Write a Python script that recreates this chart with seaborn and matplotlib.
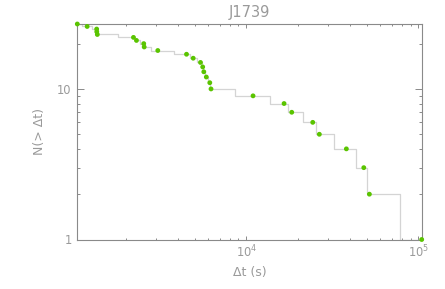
import numpy as np
import pandas as pd
import matplotlib
matplotlib.use("Agg")
import matplotlib.pyplot as plt
import matplotlib.ticker as mticker
import seaborn as sns

# ---- data ----
title = "J1739"
x_label = "\u0394t (s)"
y_label = "N(> \u0394t)"
delta_t = [1042, 1189, 1350, 1352, 1362, 2209, 2299, 2535, 2550, 3059,
           4492, 4913, 5416, 5579, 5662, 5855, 6135, 6235, 10940, 16570,
           18365, 24322, 26570, 38140, 48150, 51900, 104500]
n_count = [27, 26, 25, 24, 23, 22, 21, 20, 19, 18,
           17, 16, 15, 14, 13, 12, 11, 10, 9, 8,
           7, 6, 5, 4, 3, 2, 1]
y_major = [1, 10]
y_major_labels = ["1", "10"]

df = pd.DataFrame({"dt": delta_t, "N": n_count})

sns.set_style("ticks")
plt.rcParams["font.family"] = ["DejaVu Sans"]

text_c = "#9a9a9a"
axis_c = "#8a8a8a"

fig = plt.figure(figsize=(4.45, 2.89), dpi=100)
ax = fig.add_axes([77.3 / 445, 1 - 239.5 / 289, (421.7 - 77.3) / 445, (239.5 - 24) / 289])

sns.lineplot(data=df, x="dt", y="N", ax=ax, estimator=None, sort=False,
             drawstyle="steps-mid", color="#d4d4d4", linewidth=0.9, zorder=1)
sns.scatterplot(data=df, x="dt", y="N", ax=ax, color="#5ac400", s=12,
                edgecolor="none", zorder=3, clip_on=False)

ax.set_xscale("log")
ax.set_yscale("log")
ax.set_xlim(min(delta_t), max(delta_t))
ax.set_ylim(1, max(n_count))

ax.yaxis.set_major_locator(mticker.FixedLocator(y_major))
ax.yaxis.set_major_formatter(mticker.FixedFormatter(y_major_labels))
ax.yaxis.set_minor_locator(mticker.LogLocator(base=10, subs=np.arange(2, 10)))
ax.yaxis.set_minor_formatter(mticker.NullFormatter())
ax.xaxis.set_major_locator(mticker.LogLocator(base=10))
ax.xaxis.set_minor_locator(mticker.LogLocator(base=10, subs=np.arange(2, 10)))
ax.xaxis.set_minor_formatter(mticker.NullFormatter())

for s in ax.spines.values():
    s.set_color(axis_c)
    s.set_linewidth(0.8)

ax.tick_params(axis="both", which="both", direction="in", top=True, right=True,
               color=axis_c, labelcolor=text_c, labelsize=8.3, width=0.7)
ax.tick_params(axis="x", which="major", length=3.1, pad=3)
ax.tick_params(axis="x", which="minor", length=1.6)
ax.tick_params(axis="y", which="major", length=5.0, pad=4)
ax.tick_params(axis="y", which="minor", length=2.5)

ax.set_xlabel(x_label, color=text_c, fontsize=9, labelpad=4)
ax.set_ylabel(y_label, color=text_c, fontsize=9, labelpad=8)
ax.set_title(title, color=text_c, fontsize=10.5, pad=5)

fig.savefig("out.png", dpi=100)
